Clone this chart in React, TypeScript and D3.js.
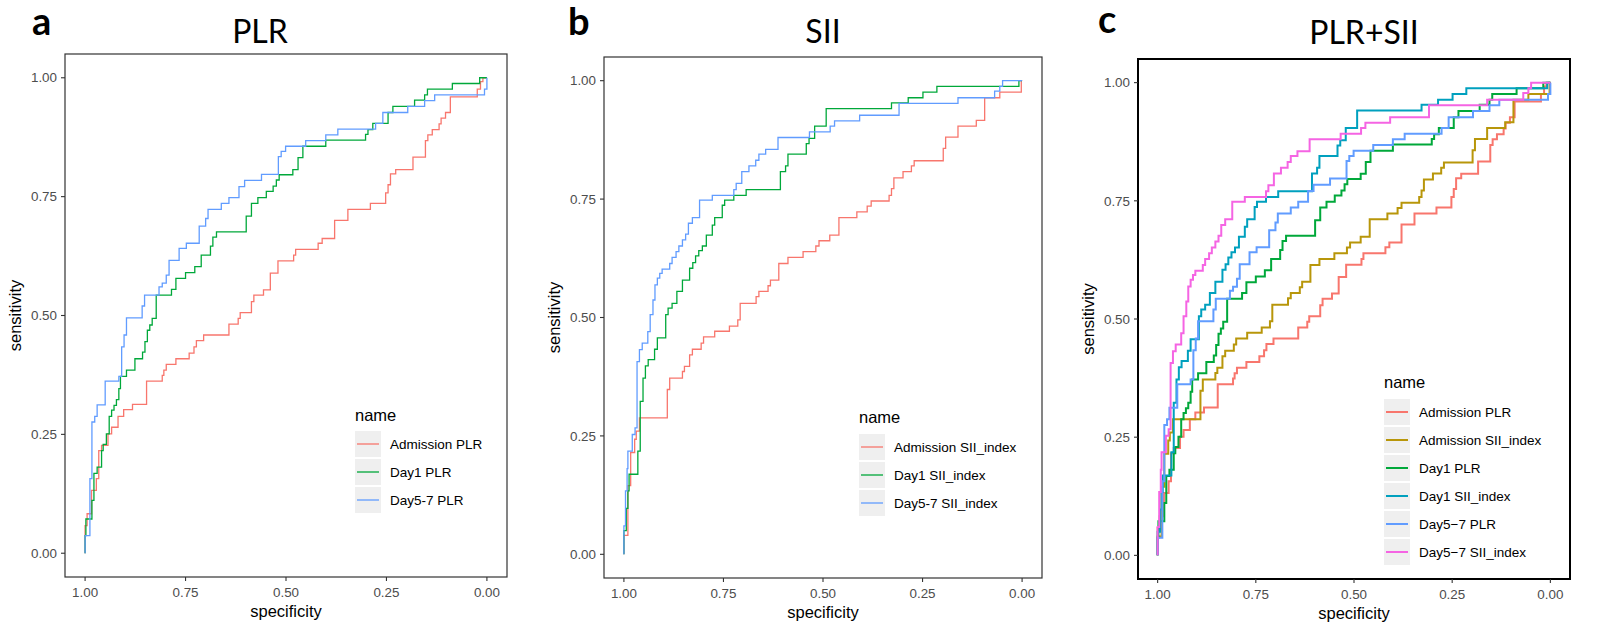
import React from 'react';
import * as d3 from 'd3';

type Pt = [number, number];

// ROC points: [specificity, sensitivity] — each point is where the curve steps up to the new sensitivity
const admissionPLR: Pt[] = [
  [1.0, 0], [1.0, 0.058], [0.995, 0.083], [0.984, 0.132], [0.972, 0.157], [0.966, 0.216], [0.959, 0.227],
  [0.943, 0.251], [0.934, 0.265], [0.918, 0.288], [0.904, 0.302], [0.882, 0.313], [0.847, 0.362], [0.808, 0.374],
  [0.804, 0.385], [0.798, 0.397], [0.774, 0.409], [0.741, 0.421], [0.729, 0.434], [0.723, 0.447], [0.705, 0.459],
  [0.642, 0.482], [0.619, 0.494], [0.614, 0.506], [0.586, 0.529], [0.580, 0.543], [0.556, 0.554], [0.539, 0.589],
  [0.520, 0.615], [0.481, 0.627], [0.476, 0.639], [0.420, 0.652], [0.410, 0.662], [0.379, 0.700], [0.346, 0.723],
  [0.290, 0.736], [0.252, 0.758], [0.246, 0.775], [0.240, 0.798], [0.227, 0.807], [0.184, 0.833], [0.153, 0.868],
  [0.147, 0.880], [0.136, 0.891], [0.119, 0.903], [0.114, 0.915], [0.103, 0.927], [0.091, 0.960], [0.024, 0.976],
  [0.016, 0.992], [0.010, 1.0], [0, 1],
];

const day1PLR: Pt[] = [
  [1.0, 0], [1.0, 0.037], [0.998, 0.072], [0.983, 0.111], [0.978, 0.168], [0.970, 0.181], [0.959, 0.216],
  [0.955, 0.229], [0.947, 0.251], [0.940, 0.288], [0.934, 0.301], [0.928, 0.311], [0.922, 0.323], [0.916, 0.346],
  [0.912, 0.372], [0.897, 0.385], [0.876, 0.409], [0.857, 0.423], [0.851, 0.445], [0.845, 0.469], [0.839, 0.480],
  [0.833, 0.494], [0.823, 0.543], [0.785, 0.555], [0.774, 0.578], [0.750, 0.590], [0.727, 0.603], [0.711, 0.627],
  [0.688, 0.646], [0.682, 0.665], [0.673, 0.676], [0.599, 0.709], [0.586, 0.736], [0.570, 0.748], [0.549, 0.761],
  [0.532, 0.772], [0.524, 0.785], [0.517, 0.796], [0.483, 0.807], [0.470, 0.832], [0.458, 0.856], [0.401, 0.869],
  [0.302, 0.881], [0.296, 0.891], [0.284, 0.904], [0.246, 0.927], [0.234, 0.940], [0.180, 0.953], [0.155, 0.964],
  [0.148, 0.976], [0.086, 0.988], [0.018, 1.0], [0, 1],
];

const day57PLR: Pt[] = [
  [1.0, 0], [1.0, 0.037], [0.988, 0.157], [0.983, 0.276], [0.976, 0.288], [0.970, 0.312], [0.950, 0.362],
  [0.916, 0.372], [0.909, 0.434], [0.903, 0.459], [0.897, 0.495], [0.858, 0.520], [0.852, 0.543], [0.816, 0.560],
  [0.808, 0.568], [0.798, 0.585], [0.791, 0.616], [0.766, 0.641], [0.748, 0.652], [0.716, 0.688], [0.700, 0.704],
  [0.694, 0.723], [0.661, 0.736], [0.642, 0.748], [0.617, 0.771], [0.603, 0.784], [0.561, 0.797], [0.519, 0.834],
  [0.512, 0.845], [0.501, 0.856], [0.451, 0.868], [0.401, 0.880], [0.371, 0.892], [0.277, 0.904], [0.259, 0.927],
  [0.197, 0.940], [0.155, 0.952], [0.130, 0.964], [0.006, 0.976], [0, 1],
];

const admissionSII: Pt[] = [
  [1.0, 0], [1.0, 0.04], [0.990, 0.145], [0.983, 0.215], [0.973, 0.243], [0.969, 0.260], [0.961, 0.288],
  [0.891, 0.348], [0.885, 0.372], [0.853, 0.386], [0.848, 0.397], [0.835, 0.421], [0.828, 0.433], [0.806, 0.446],
  [0.800, 0.459], [0.772, 0.471], [0.735, 0.482], [0.714, 0.495], [0.708, 0.530], [0.668, 0.544], [0.661, 0.555],
  [0.638, 0.567], [0.632, 0.579], [0.611, 0.614], [0.588, 0.627], [0.550, 0.639], [0.518, 0.651], [0.510, 0.662],
  [0.483, 0.674], [0.460, 0.711], [0.415, 0.723], [0.389, 0.735], [0.379, 0.746], [0.334, 0.758], [0.328, 0.772],
  [0.322, 0.795], [0.299, 0.808], [0.278, 0.820], [0.271, 0.831], [0.198, 0.857], [0.192, 0.881], [0.161, 0.904],
  [0.115, 0.916], [0.094, 0.964], [0.056, 0.976], [0.002, 1.0], [0, 1],
];

const day1SII: Pt[] = [
  [1.0, 0], [1.0, 0.050], [0.994, 0.097], [0.990, 0.134], [0.987, 0.169], [0.965, 0.218], [0.959, 0.323],
  [0.952, 0.372], [0.946, 0.398], [0.939, 0.411], [0.923, 0.433], [0.916, 0.457], [0.895, 0.506], [0.889, 0.520],
  [0.879, 0.530], [0.867, 0.555], [0.853, 0.579], [0.835, 0.604], [0.827, 0.616], [0.820, 0.630], [0.812, 0.641],
  [0.803, 0.651], [0.793, 0.674], [0.778, 0.695], [0.772, 0.711], [0.753, 0.737], [0.747, 0.748], [0.724, 0.758],
  [0.693, 0.770], [0.607, 0.808], [0.594, 0.820], [0.588, 0.845], [0.542, 0.867], [0.535, 0.878], [0.521, 0.904],
  [0.492, 0.941], [0.328, 0.953], [0.286, 0.964], [0.249, 0.976], [0.214, 0.988], [0.008, 1.0], [0, 1],
];

const day57SII: Pt[] = [
  [1.0, 0], [1.0, 0.060], [0.996, 0.134], [0.992, 0.181], [0.990, 0.218], [0.979, 0.253], [0.972, 0.267],
  [0.967, 0.407], [0.961, 0.432], [0.954, 0.446], [0.940, 0.470], [0.934, 0.506], [0.927, 0.537], [0.922, 0.569],
  [0.916, 0.583], [0.910, 0.593], [0.904, 0.602], [0.885, 0.614], [0.879, 0.627], [0.869, 0.639], [0.862, 0.651],
  [0.853, 0.664], [0.845, 0.676], [0.838, 0.699], [0.828, 0.711], [0.810, 0.748], [0.778, 0.758], [0.724, 0.770],
  [0.718, 0.783], [0.704, 0.808], [0.686, 0.820], [0.669, 0.832], [0.661, 0.845], [0.644, 0.855], [0.613, 0.880],
  [0.534, 0.892], [0.482, 0.904], [0.471, 0.915], [0.408, 0.927], [0.309, 0.952], [0.161, 0.964], [0.069, 0.978],
  [0.056, 0.988], [0.049, 1.0], [0, 1],
];

const xTicks = [1, 0.75, 0.5, 0.25, 0];
const yTicks = [0, 0.25, 0.5, 0.75, 1];

const namesA = ['Admission PLR', 'Day1 PLR', 'Day5-7 PLR'];
const namesB = ['Admission SII_index', 'Day1 SII_index', 'Day5-7 SII_index'];
const namesC = ['Admission PLR', 'Admission SII_index', 'Day1 PLR', 'Day1 SII_index', 'Day5\u22127 PLR', 'Day5\u22127 SII_index'];

const colors3 = ['#F8766D', '#00A83A', '#619CFF'];
const colors6 = ['#F8766D', '#B8960A', '#00A83A', '#00A0BE', '#619CFF', '#F564E3'];

type PanelProps = {
  left: number; right: number; top: number; bottom: number;
  letter: string; letterX: number; letterY: number;
  title: string; titleX: number; titleY: number;
  names: string[]; curves: Pt[][]; colors: string[];
  lineWidth: number; frameColor: string; frameWidth: number;
  legendX: number; legendTitleY: number; legendRowY: number;
};

const Panel = (p: PanelProps) => {
  const x = d3.scaleLinear().domain([1.05, -0.05]).range([p.left, p.right]);
  const y = d3.scaleLinear().domain([-0.05, 1.05]).range([p.bottom, p.top]);
  const line = d3.line<Pt>().x(d => x(d[0])).y(d => y(d[1])).curve(d3.curveStepAfter);
  const fmt = d3.format('.2f');
  const midY = (p.top + p.bottom) / 2;
  const midX = (p.left + p.right) / 2;
  const axisFont = '"Liberation Sans", Arial, sans-serif';

  return (
    <g>
      <text x={p.letterX} y={p.letterY} fontFamily="Lato, sans-serif" fontWeight="bold" fontSize={38} fill="#000">{p.letter}</text>
      <text x={p.titleX} y={p.titleY} textAnchor="middle" fontFamily="Lato, sans-serif" fontSize={32} fill="#000">{p.title}</text>

      <rect x={p.left} y={p.top} width={p.right - p.left} height={p.bottom - p.top} fill="#fff" />

      {p.curves.map((c, i) => (
        <path key={i} d={line(c) || ''} fill="none" stroke={p.colors[i]} strokeWidth={p.lineWidth} />
      ))}

      <rect x={p.left} y={p.top} width={p.right - p.left} height={p.bottom - p.top} fill="none"
        stroke={p.frameColor} strokeWidth={p.frameWidth} />

      {yTicks.map(t => (
        <g key={'y' + t}>
          <line x1={p.left - 4} x2={p.left} y1={y(t)} y2={y(t)} stroke="#333" strokeWidth={1.1} />
          <text x={p.left - 8} y={y(t)} dy="0.35em" textAnchor="end" fontFamily={axisFont} fontSize={13.4} fill="#4D4D4D">{fmt(t)}</text>
        </g>
      ))}
      {xTicks.map(t => (
        <g key={'x' + t}>
          <line x1={x(t)} x2={x(t)} y1={p.bottom} y2={p.bottom + 4} stroke="#333" strokeWidth={1.1} />
          <text x={x(t)} y={p.bottom + 20} textAnchor="middle" fontFamily={axisFont} fontSize={13.4} fill="#4D4D4D">{fmt(t)}</text>
        </g>
      ))}

      <text x={midX} y={p.bottom + 40} textAnchor="middle" fontFamily={axisFont} fontSize={16.5} fill="#000">specificity</text>
      <text transform={`translate(${p.left - 44},${midY}) rotate(-90)`} textAnchor="middle" fontFamily={axisFont} fontSize={16.5} fill="#000">sensitivity</text>

      <text x={p.legendX} y={p.legendTitleY} dy="0.35em" fontFamily={axisFont} fontSize={16.5} fill="#000">name</text>
      {p.names.map((n, i) => {
        const ry = p.legendRowY + i * 28;
        return (
          <g key={n}>
            <rect x={p.legendX} y={ry - 13} width={26} height={26} fill="#EFEFEF" />
            <line x1={p.legendX + 2} x2={p.legendX + 24} y1={ry} y2={ry} stroke={p.colors[i]} strokeWidth={p.lineWidth} />
            <text x={p.legendX + 35} y={ry} dy="0.35em" fontFamily={axisFont} fontSize={13.5} fill="#000">{n}</text>
          </g>
        );
      })}
    </g>
  );
};

const App = () => {
  return (
    <svg width={1604} height={627} style={{ position: 'absolute', left: 0, top: 0, background: '#fff' }}>
      <rect width={1604} height={627} fill="#fff" />
      <Panel left={65} right={507} top={54} bottom={577}
        letter="a" letterX={32} letterY={35} title="PLR" titleX={260} titleY={43}
        names={namesA} curves={[admissionPLR, day1PLR, day57PLR]} colors={colors3}
        lineWidth={1.3} frameColor="#333" frameWidth={1.2}
        legendX={355} legendTitleY={415} legendRowY={444} />
      <Panel left={604} right={1042} top={57} bottom={578}
        letter="b" letterX={568} letterY={35} title="SII" titleX={823} titleY={43}
        names={namesB} curves={[admissionSII, day1SII, day57SII]} colors={colors3}
        lineWidth={1.3} frameColor="#333" frameWidth={1.2}
        legendX={859} legendTitleY={417} legendRowY={447} />
      <Panel left={1138} right={1570} top={59} bottom={579}
        letter="c" letterX={1098} letterY={33} title="PLR+SII" titleX={1364} titleY={44}
        names={namesC} curves={[admissionPLR, admissionSII, day1PLR, day1SII, day57PLR, day57SII]} colors={colors6}
        lineWidth={2} frameColor="#000" frameWidth={2}
        legendX={1384} legendTitleY={382} legendRowY={412} />
    </svg>
  );
};

export default App;
